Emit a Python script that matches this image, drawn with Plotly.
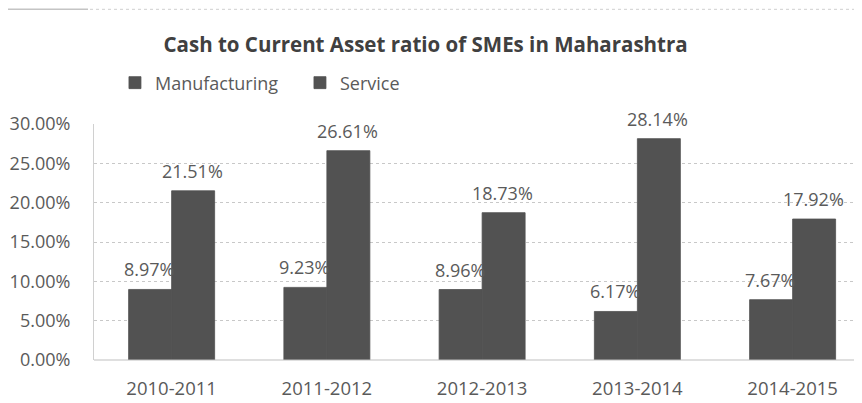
import plotly.graph_objects as go

categories = ["2010-2011", "2011-2012", "2012-2013", "2013-2014", "2014-2015"]
manufacturing = [8.97, 9.23, 8.96, 6.17, 7.67]
service = [21.51, 26.61, 18.73, 28.14, 17.92]
y_ticks = [0, 5, 10, 15, 20, 25, 30]

bar_color = "#525252"
text_color = "#5a5a5a"
font_family = "'Open Sans', sans-serif"

# page has an 8px body margin, so the figure is sized 8px smaller
W, H = 854, 395

fig = go.Figure()
fig.add_trace(go.Bar(name="Manufacturing", x=categories, y=manufacturing,
                     marker=dict(color=bar_color, line=dict(width=0.8, color=bar_color))))
fig.add_trace(go.Bar(name="Service", x=categories, y=service,
                     marker=dict(color=bar_color, line=dict(width=0.8, color=bar_color))))

annotations = []
for i, c in enumerate(categories):
    for off, vals in ((-0.5, manufacturing), (0.5, service)):
        annotations.append(dict(
            x=c, y=vals[i], xref="x", yref="y", text=f"{vals[i]:.2f}%",
            showarrow=False, yanchor="bottom", yshift=6, xshift=off * 43 - 1,
            font=dict(size=18, color=text_color, family=font_family)))

fig.update_layout(
    width=W, height=H,
    margin=dict(l=86, r=0, t=116, b=43, autoexpand=False),
    paper_bgcolor="white", plot_bgcolor="white",
    barmode="group", bargap=0.446, bargroupgap=0,
    font=dict(family=font_family, color=text_color, size=18),
    title=dict(text="<b>Cash to Current Asset ratio of SMEs in Maharashtra</b>",
               x=0.489, xanchor="center", y=0.906, yanchor="middle",
               font=dict(size=20.5, color="#404040", family=font_family)),
    legend=dict(orientation="h", x=0.0273, xanchor="left", y=1.174, yanchor="middle",
                font=dict(size=18, color=text_color), itemwidth=30,
                traceorder="normal", entrywidth=140),
    showlegend=True,
    annotations=annotations,
    xaxis=dict(range=[-0.5, 4.447], showgrid=False, showline=False, ticks="",
               tickfont=dict(size=18.5, color=text_color), ticklabelstandoff=15),
    yaxis=dict(range=[0, 30], tickvals=y_ticks,
               ticktext=[f"{v:.2f}%" for v in y_ticks],
               showgrid=True, gridcolor="#c8c8c8", griddash="dot", gridwidth=1,
               showline=True, linecolor="#d0d0d0", zeroline=False,
               tickfont=dict(size=18, color=text_color), ticklabelstandoff=19),
    shapes=[dict(type="line", xref="paper", yref="paper", x0=-4 / 768, x1=1,
                 y0=1.486, y1=1.486, line=dict(color="#cfcfcf", width=1, dash="dot")),
            dict(type="line", xref="paper", yref="paper", x0=-86 / 768, x1=-6 / 768,
                 y0=1.486, y1=1.486, line=dict(color="#c4c4c4", width=1.5)),
            dict(type="line", xref="paper", yref="paper", x0=0, x1=1,
                 y0=0, y1=0, line=dict(color="#bfbfbf", width=1))],
)

fig.write_html("out.html")
